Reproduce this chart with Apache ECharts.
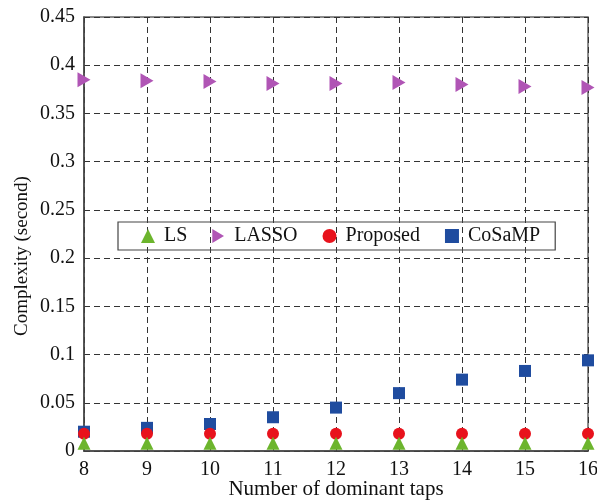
<!DOCTYPE html>
<html><head><meta charset="utf-8">
<script src="https://cdn.jsdelivr.net/npm/echarts@6/dist/echarts.min.js"></script>
<style>html,body{margin:0;padding:0;background:#fff}#c{width:597px;height:503px}</style>
</head><body><div id="c"></div>
<script>
const taps = [8, 9, 10, 11, 12, 13, 14, 15, 16];
const ls = [0.008, 0.008, 0.008, 0.008, 0.008, 0.008, 0.008, 0.008, 0.008];
const lasso = [0.385, 0.384, 0.383, 0.381, 0.381, 0.382, 0.380, 0.378, 0.377];
const proposed = [0.018, 0.018, 0.018, 0.018, 0.018, 0.018, 0.018, 0.018, 0.018];
const cosamp = [0.020, 0.024, 0.028, 0.035, 0.045, 0.060, 0.074, 0.083, 0.094];
const seriesNames = ['LS', 'LASSO', 'Proposed', 'CoSaMP'];

const font = '"Liberation Serif", "Times New Roman", serif';
const rightTri = 'path://M0,0 L10,6 L0,12 Z';
const zip = a => taps.map((t, i) => [t, a[i]]);

const chart = echarts.init(document.getElementById('c'));
const gridLine = { show: true, lineStyle: { color: '#333', type: [6, 4], width: 1 } };
chart.setOption({
  animation: false,
  backgroundColor: '#fff',
  grid: { left: 84, right: 9, top: 17, bottom: 52, show: true, borderColor: '#666', borderWidth: 1.5,
    containLabel: false, outerBoundsMode: 'none' },
  legend: {
    left: 118, top: 222, width: 480,
    data: [
      { name: seriesNames[0], icon: 'triangle' },
      { name: seriesNames[1], icon: rightTri },
      { name: seriesNames[2], icon: 'circle' },
      { name: seriesNames[3], icon: 'rect' }
    ],
    itemWidth: 14, itemHeight: 14, itemGap: 25,
    borderColor: '#444', borderWidth: 1.2, padding: [4, 15, 4, 23],
    textStyle: { fontFamily: font, fontSize: 20, color: '#111', padding: [0, 0, 0, 4] }
  },
  xAxis: {
    type: 'value', min: 8, max: 16, interval: 1,
    name: 'Number of dominant taps', nameLocation: 'middle', nameGap: 28, nameMoveOverlap: false,
    nameTextStyle: { fontFamily: font, fontSize: 21, color: '#111' },
    axisLine: { show: true, lineStyle: { color: '#444', width: 1.5 } },
    axisTick: { show: false },
    axisLabel: { fontFamily: font, fontSize: 20, color: '#111', margin: 9 },
    splitLine: gridLine
  },
  yAxis: {
    type: 'value', min: 0, max: 0.45, interval: 0.05,
    name: 'Complexity (second)', nameLocation: 'middle', nameGap: 52, nameMoveOverlap: false,
    nameTextStyle: { fontFamily: font, fontSize: 19, color: '#111', padding: [0, 44, 0, 0] },
    axisLine: { show: true, lineStyle: { color: '#444', width: 1.5 } },
    axisTick: { show: false },
    axisLabel: { fontFamily: font, fontSize: 20, color: '#111', margin: 9,
      formatter: v => String(parseFloat(v.toFixed(2))) },
    splitLine: gridLine
  },
  series: [
    { name: 'LS', type: 'scatter', symbol: 'triangle', symbolSize: 13, z: 5,
      itemStyle: { color: '#6cb52d', opacity: 1 }, data: zip(ls) },
    { name: 'LASSO', type: 'scatter', symbol: rightTri, symbolSize: [13, 15],
      itemStyle: { color: '#b055b5', opacity: 1 }, data: zip(lasso) },
    { name: 'Proposed', type: 'scatter', symbol: 'circle', symbolSize: 12, z: 3,
      itemStyle: { color: '#e8121c', opacity: 1 }, data: zip(proposed) },
    { name: 'CoSaMP', type: 'scatter', symbol: 'rect', symbolSize: 12, z: 2,
      itemStyle: { color: '#1f4c9f', opacity: 1 }, data: zip(cosamp) }
  ]
});
</script></body></html>
